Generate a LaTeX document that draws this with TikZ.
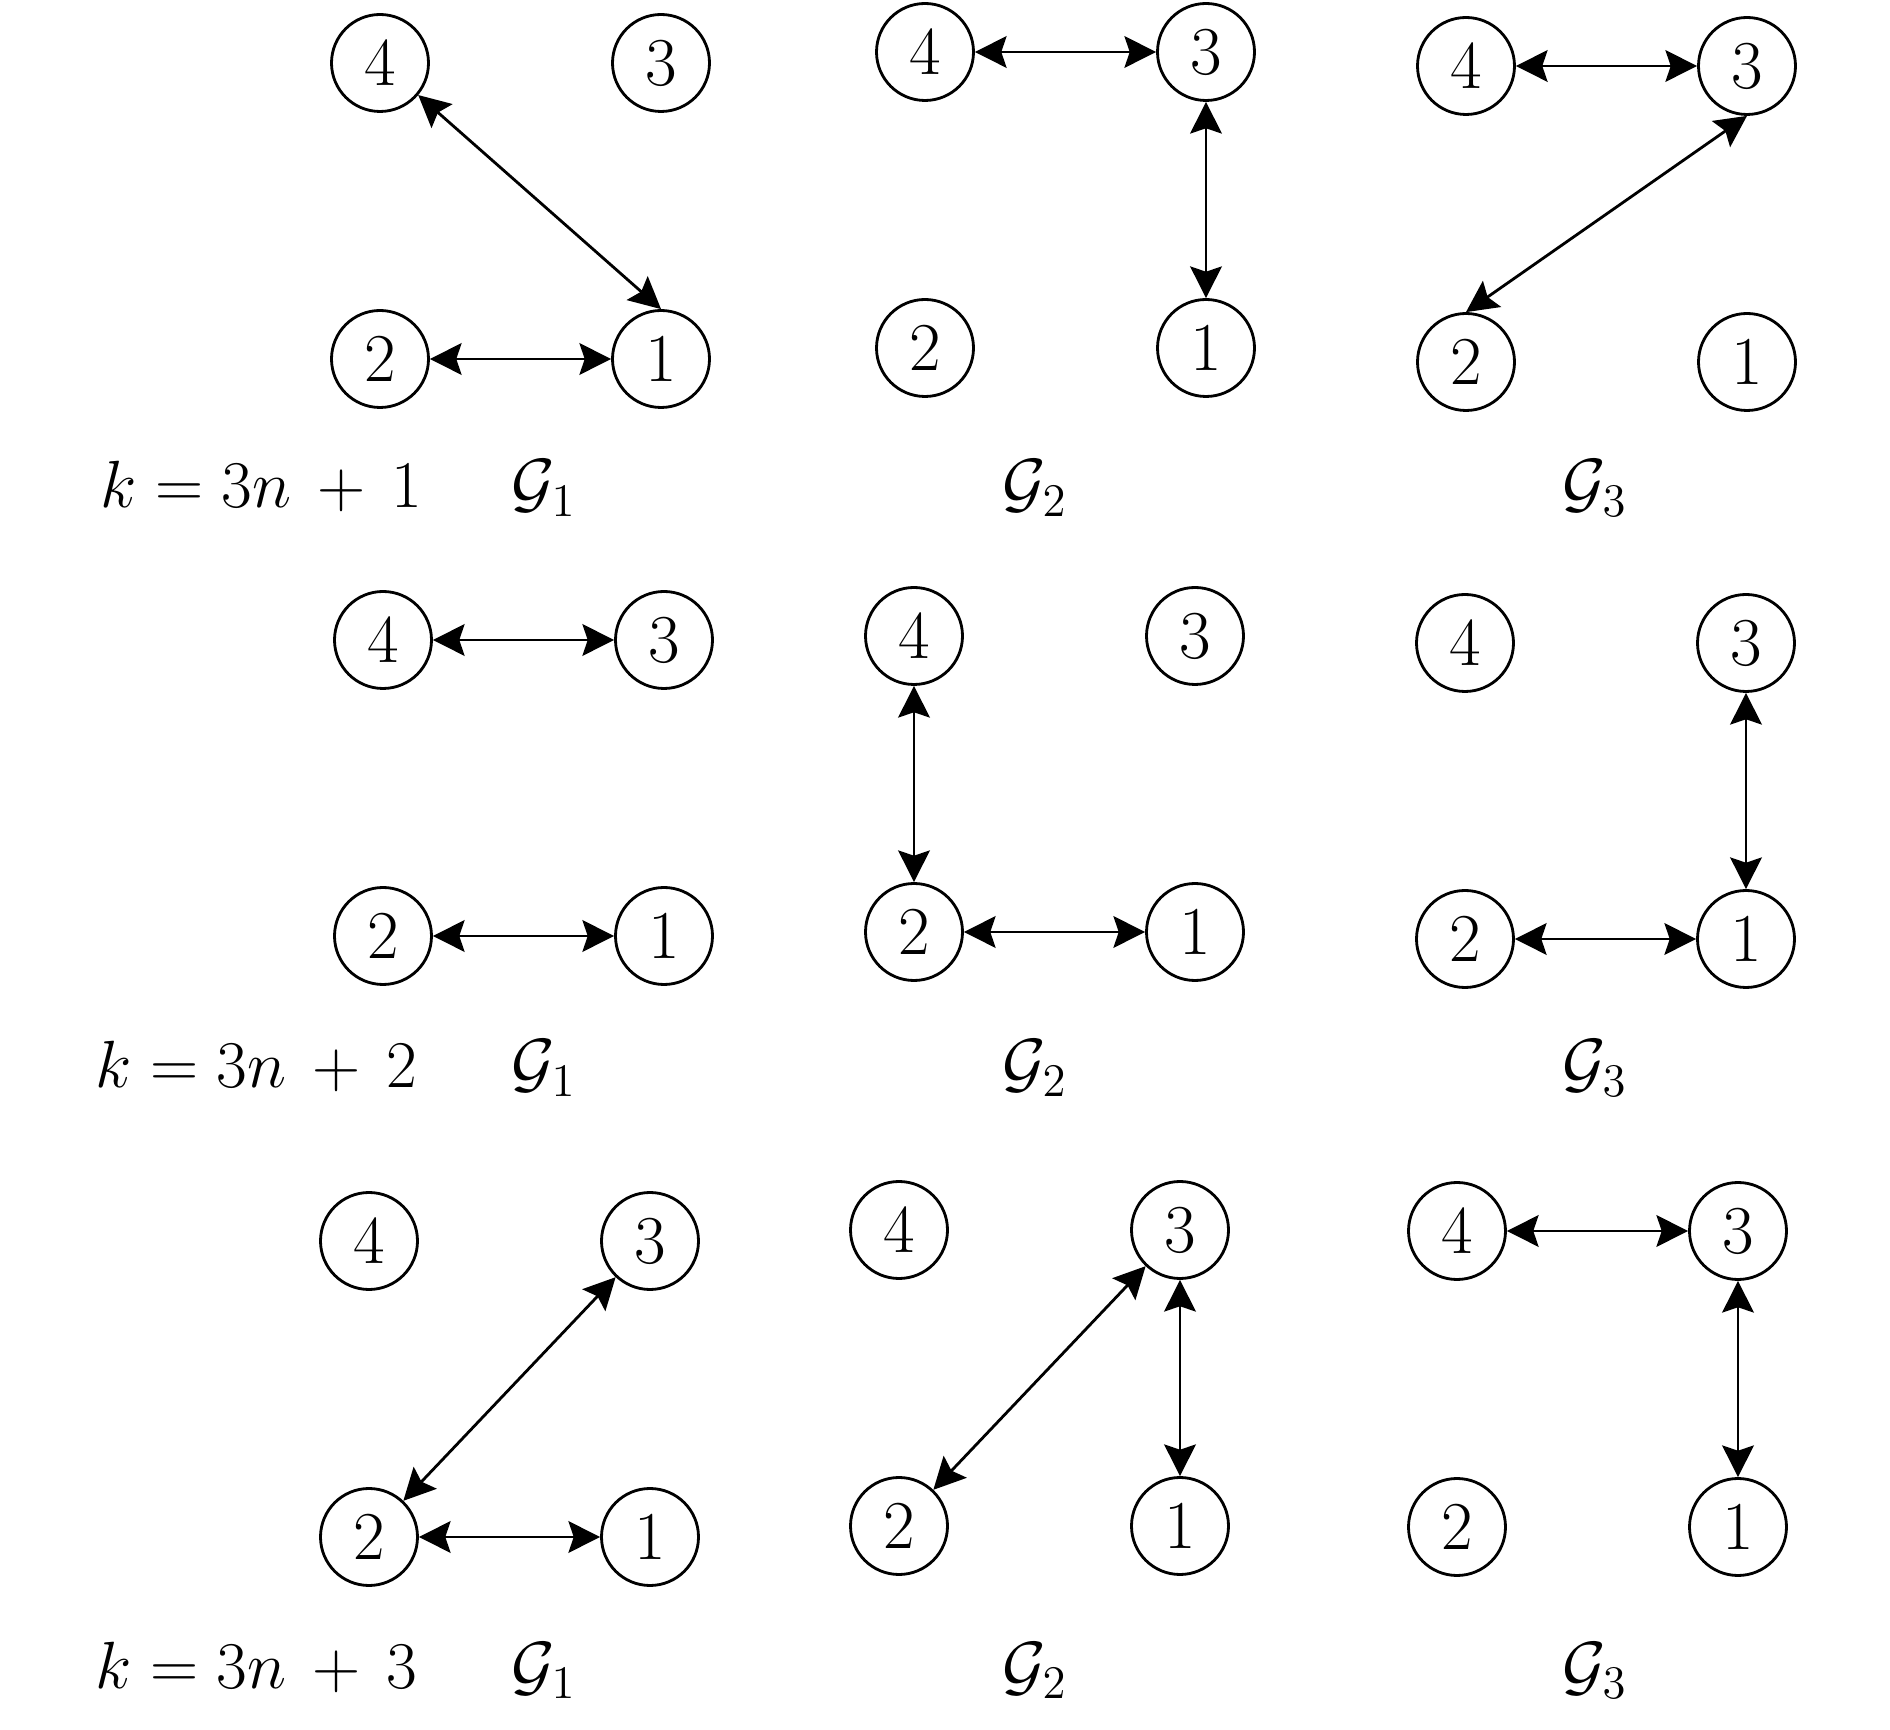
\RequirePackage{fix-cm}
\documentclass[tikz,border=0pt]{standalone}
\usetikzlibrary{arrows.meta}
\tikzstyle{vertex} = [draw, circle, line width=0.8pt, minimum size=0.97cm,
    inner sep=0pt, font=\fontsize{19.5}{23}\selectfont]
\tikzstyle{caption} = [inner sep=0pt, font=\fontsize{19}{23}\selectfont]

\begin{document}
\begin{tikzpicture}[x=1cm, y=-1cm, line width=0.8pt,
    >={Stealth[length=9pt,width=9pt,inset=1.5pt]}]
    \useasboundingbox (0,0) rectangle (18.9,17.3);

    % vertices of the nine graphs, placed from vertex 4
    \foreach \r/\c/\x/\y in {1/1/3.80/0.63, 1/2/9.25/0.52, 1/3/14.66/0.66,
                             2/1/3.83/6.40, 2/2/9.14/6.36, 2/3/14.65/6.43,
                             3/1/3.69/12.41, 3/2/8.99/12.30, 3/3/14.57/12.31} {
        \node [vertex] (g\r\c-4) at (\x,\y) {4};
        \node [vertex] (g\r\c-3) at (\x+2.81,\y) {3};
        \node [vertex] (g\r\c-2) at (\x,\y+2.96) {2};
        \node [vertex] (g\r\c-1) at (\x+2.81,\y+2.96) {1};
    }

    % captions
    \node [caption, anchor=base west] (k1) at (0.99,5.08) {$k=3n\,+\,1$};
    \node [caption, anchor=base west] (k2) at (0.94,10.88) {$k=3n\,+\,2$};
    \node [caption, anchor=base west] (k3) at (0.94,16.88) {$k=3n\,+\,3$};
    \foreach \r/\y in {1/5.06, 2/10.86, 3/16.88} {
        \node [caption, anchor=base] (G\r1) at (5.44,\y) {$\mathcal{G}_1$};
        \node [caption, anchor=base] (G\r2) at (10.35,\y) {$\mathcal{G}_2$};
        \node [caption, anchor=base] (G\r3) at (15.95,\y) {$\mathcal{G}_3$};
    }

    % k = 3n+1
    \draw [<->] (g11-4.-40) -- (g11-1.north);
    \draw [<->] (g11-2) -- (g11-1);
    \draw [<->] (g12-4) -- (g12-3);
    \draw [<->] (g12-3) -- (g12-1);
    \draw [<->] (g13-4) -- (g13-3);
    \draw [<->] (g13-3.south) -- (g13-2.north);

    % k = 3n+2
    \draw [<->] (g21-4) -- (g21-3);
    \draw [<->] (g21-2) -- (g21-1);
    \draw [<->] (g22-4) -- (g22-2);
    \draw [<->] (g22-2) -- (g22-1);
    \draw [<->] (g23-3) -- (g23-1);
    \draw [<->] (g23-2) -- (g23-1);

    % k = 3n+3
    \draw [<->] (g31-3) -- (g31-2);
    \draw [<->] (g31-2) -- (g31-1);
    \draw [<->] (g32-3) -- (g32-2);
    \draw [<->] (g32-3) -- (g32-1);
    \draw [<->] (g33-4) -- (g33-3);
    \draw [<->] (g33-3) -- (g33-1);
\end{tikzpicture}
\end{document}
